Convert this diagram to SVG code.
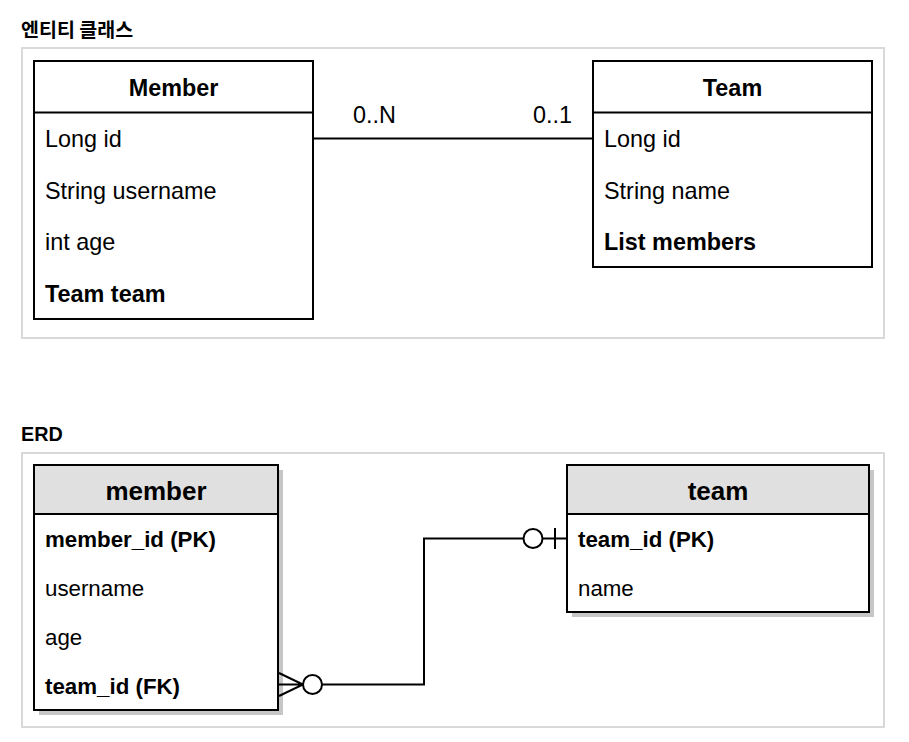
<svg xmlns="http://www.w3.org/2000/svg" width="909" height="742" viewBox="0 0 909 742">
  <style>
    .title { font-family: "Noto Sans CJK KR", "Liberation Sans", sans-serif; font-weight: bold; font-size: 19.5px; fill: #000; }
    .title-latin { font-family: "Liberation Sans", Arial, sans-serif; font-weight: bold; font-size: 19.8px; fill: #000; }
    .panel { fill: #fff; stroke: #d9d9d9; stroke-width: 2; }
    .box { fill: #fff; stroke: #000; stroke-width: 2; }
    .div { stroke: #000; stroke-width: 2; }
    .hdr { fill: #e0e0e0; stroke: #000; stroke-width: 2; }
    .shadow { fill: #c6c6c6; }
    .t { font-family: "Liberation Sans", Arial, Helvetica, sans-serif; font-size: 23.4px; fill: #000; }
    .e { font-family: "Liberation Sans", Arial, Helvetica, sans-serif; font-size: 22.3px; fill: #000; }
    .eh { font-family: "Liberation Sans", Arial, Helvetica, sans-serif; font-size: 26px; font-weight: bold; fill: #000; text-anchor: middle; }
    .b { font-weight: bold; }
    .c { text-anchor: middle; }
    .line { fill: none; stroke: #000; stroke-width: 2; }
    .ring { fill: #fff; stroke: #000; stroke-width: 2; }
  </style>

  <rect width="909" height="742" fill="#fff"/>

  <!-- Entity classes section -->
  <text class="title" x="21" y="37">엔티티 클래스</text>
  <rect class="panel" x="22" y="48" width="862" height="290"/>

  <g id="connectors-class">
    <line class="line" x1="313" y1="138.5" x2="593" y2="138.5"/>
    <text class="t" x="353" y="123">0..N</text>
    <text class="t" x="533" y="123">0..1</text>
  </g>

  <g id="Member">
    <rect class="box" x="34" y="61" width="279" height="258"/>
    <line class="div" x1="34" y1="112.5" x2="313" y2="112.5"/>
    <text class="t b c" x="173.5" y="96">Member</text>
    <text class="t" x="45" y="147">Long id</text>
    <text class="t" x="45" y="198.5">String username</text>
    <text class="t" x="45" y="250">int age</text>
    <text class="t b" x="45" y="302">Team team</text>
  </g>

  <g id="Team">
    <rect class="box" x="593" y="61" width="279" height="206"/>
    <line class="div" x1="593" y1="112.5" x2="872" y2="112.5"/>
    <text class="t b c" x="732.5" y="96">Team</text>
    <text class="t" x="604" y="147">Long id</text>
    <text class="t" x="604" y="198.5">String name</text>
    <text class="t b" x="604" y="250">List members</text>
  </g>

  <!-- ERD section -->
  <text class="title-latin" x="21" y="441">ERD</text>
  <rect class="panel" x="22" y="453" width="862" height="274"/>

  <g id="member">
    <rect class="shadow" x="39" y="470" width="244" height="245"/>
    <rect class="box" x="34" y="465" width="244" height="245"/>
    <rect class="hdr" x="34" y="465" width="244" height="49"/>
    <text class="eh" x="156" y="500">member</text>
    <text class="e b" x="45" y="547">member_id (PK)</text>
    <text class="e" x="45" y="596">username</text>
    <text class="e" x="45" y="645">age</text>
    <text class="e b" x="45" y="694">team_id (FK)</text>
  </g>

  <g id="team">
    <rect class="shadow" x="572" y="470" width="302" height="147"/>
    <rect class="box" x="567" y="465" width="302" height="147"/>
    <rect class="hdr" x="567" y="465" width="302" height="49"/>
    <text class="eh" x="718" y="500">team</text>
    <text class="e b" x="578" y="547">team_id (PK)</text>
    <text class="e" x="578" y="596">name</text>
  </g>

  <g id="connectors-erd">
    <path class="line" d="M567,538.5 H424 V684.5 H303"/>
    <!-- one side: zero-or-one -->
    <line class="line" x1="555" y1="528" x2="555" y2="549"/>
    <circle class="ring" cx="533" cy="538.5" r="9.5"/>
    <!-- many side: zero-or-many -->
    <path class="line" d="M279,673 L303,684.5 L279,696 M279,684.5 H303"/>
    <circle class="ring" cx="312.5" cy="684.5" r="9.5"/>
  </g>
</svg>
